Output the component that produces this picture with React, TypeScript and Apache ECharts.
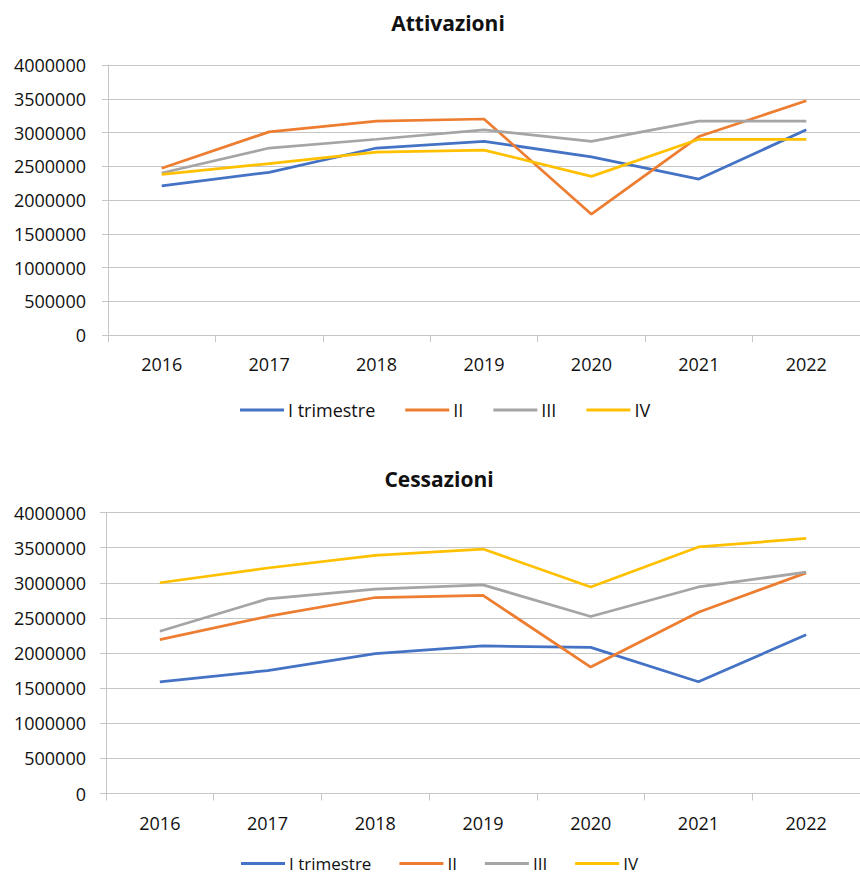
import React, { useEffect, useRef } from "react";
import * as echarts from "echarts";

const years = ["2016", "2017", "2018", "2019", "2020", "2021", "2022"];
const seriesNames = ["I trimestre", "II", "III", "IV"];
const colors = ["#4472C4", "#ED7D31", "#A5A5A5", "#FFC000"];

// Attivazioni
const attI = [2210000, 2410000, 2770000, 2870000, 2640000, 2310000, 3040000];
const attII = [2470000, 3010000, 3170000, 3200000, 1790000, 2940000, 3470000];
const attIII = [2400000, 2770000, 2900000, 3040000, 2870000, 3170000, 3170000];
const attIV = [2380000, 2540000, 2710000, 2740000, 2350000, 2900000, 2900000];

// Cessazioni
const cesI = [1590000, 1750000, 1990000, 2100000, 2080000, 1590000, 2260000];
const cesII = [2190000, 2520000, 2790000, 2820000, 1800000, 2580000, 3140000];
const cesIII = [2310000, 2770000, 2910000, 2970000, 2520000, 2940000, 3150000];
const cesIV = [3000000, 3210000, 3390000, 3480000, 2940000, 3510000, 3630000];

const titles = ["Attivazioni", "Cessazioni"];

const FONT = "Open Sans";
const TEXT = "#111111";
const GRIDC = "#C6C6C6";

export default function App() {
  const ref = useRef<HTMLDivElement>(null);
  useEffect(() => {
    document.body.style.margin = "0";
    if (!ref.current) return;
    const chart = echarts.init(ref.current, undefined, { renderer: "svg" });
    const att = [attI, attII, attIII, attIV];
    const ces = [cesI, cesII, cesIII, cesIV];
    const mkX = (gi: number) => ({
      type: "category",
      gridIndex: gi,
      data: years,
      boundaryGap: true,
      axisLine: { show: true, lineStyle: { color: GRIDC, width: 1 } },
      axisTick: { show: true, length: 7, lineStyle: { color: GRIDC } },
      axisLabel: { color: TEXT, fontFamily: FONT, fontSize: 18, margin: 20 },
    });
    const mkY = (gi: number, margin: number) => ({
      type: "value",
      gridIndex: gi,
      min: 0,
      max: 4000000,
      interval: 500000,
      axisLine: { show: true, lineStyle: { color: GRIDC, width: 1 } },
      axisTick: { show: true, length: 6, lineStyle: { color: GRIDC } },
      splitLine: { show: true, lineStyle: { color: GRIDC, width: 1 } },
      axisLabel: {
        color: TEXT,
        fontFamily: FONT,
        fontSize: 18,
        margin,
        formatter: (v: number) => String(v),
      },
    });
    const mkSeries = (data: number[][], gi: number) =>
      data.map((d, i) => ({
        type: "line",
        name: seriesNames[i],
        xAxisIndex: gi,
        yAxisIndex: gi,
        data: d,
        symbol: "none",
        lineStyle: { color: colors[i], width: 2.75 },
        itemStyle: { color: colors[i] },
      }));
    const mkLegend = (left: number, top: number, gap: number, fs: number) => ({
      left,
      top,
      padding: 0,
      orient: "horizontal",
      data: seriesNames,
      icon: "rect",
      itemWidth: 44,
      itemHeight: 3,
      itemGap: gap,
      textStyle: {
        color: TEXT,
        fontFamily: FONT,
        fontSize: fs,
        lineHeight: 16,
        padding: [0, 0, 0, -1],
      },
      selectedMode: false,
    });
    chart.setOption({
      animation: false,
      backgroundColor: "#ffffff",
      title: [
        {
          text: titles[0],
          left: 443,
          textAlign: "center",
          top: 7,
          textStyle: { fontFamily: FONT, fontWeight: "bold", fontSize: 21, color: TEXT },
        },
        {
          text: titles[1],
          left: 434,
          textAlign: "center",
          top: 463,
          textStyle: { fontFamily: FONT, fontWeight: "bold", fontSize: 21, color: TEXT },
        },
      ],
      legend: [mkLegend(240, 401, 30, 18), mkLegend(241, 855, 28, 17)],
      grid: [
        { left: 108, top: 65, width: 758, height: 270, containLabel: false },
        { left: 106, top: 512.5, width: 760, height: 281, containLabel: false },
      ],
      xAxis: [mkX(0), mkX(1)],
      yAxis: [mkY(0, 22), mkY(1, 20)],
      series: [...mkSeries(att, 0), ...mkSeries(ces, 1)],
    });
    return () => chart.dispose();
  }, []);
  return <div ref={ref} style={{ width: 860, height: 874 }} />;
}
